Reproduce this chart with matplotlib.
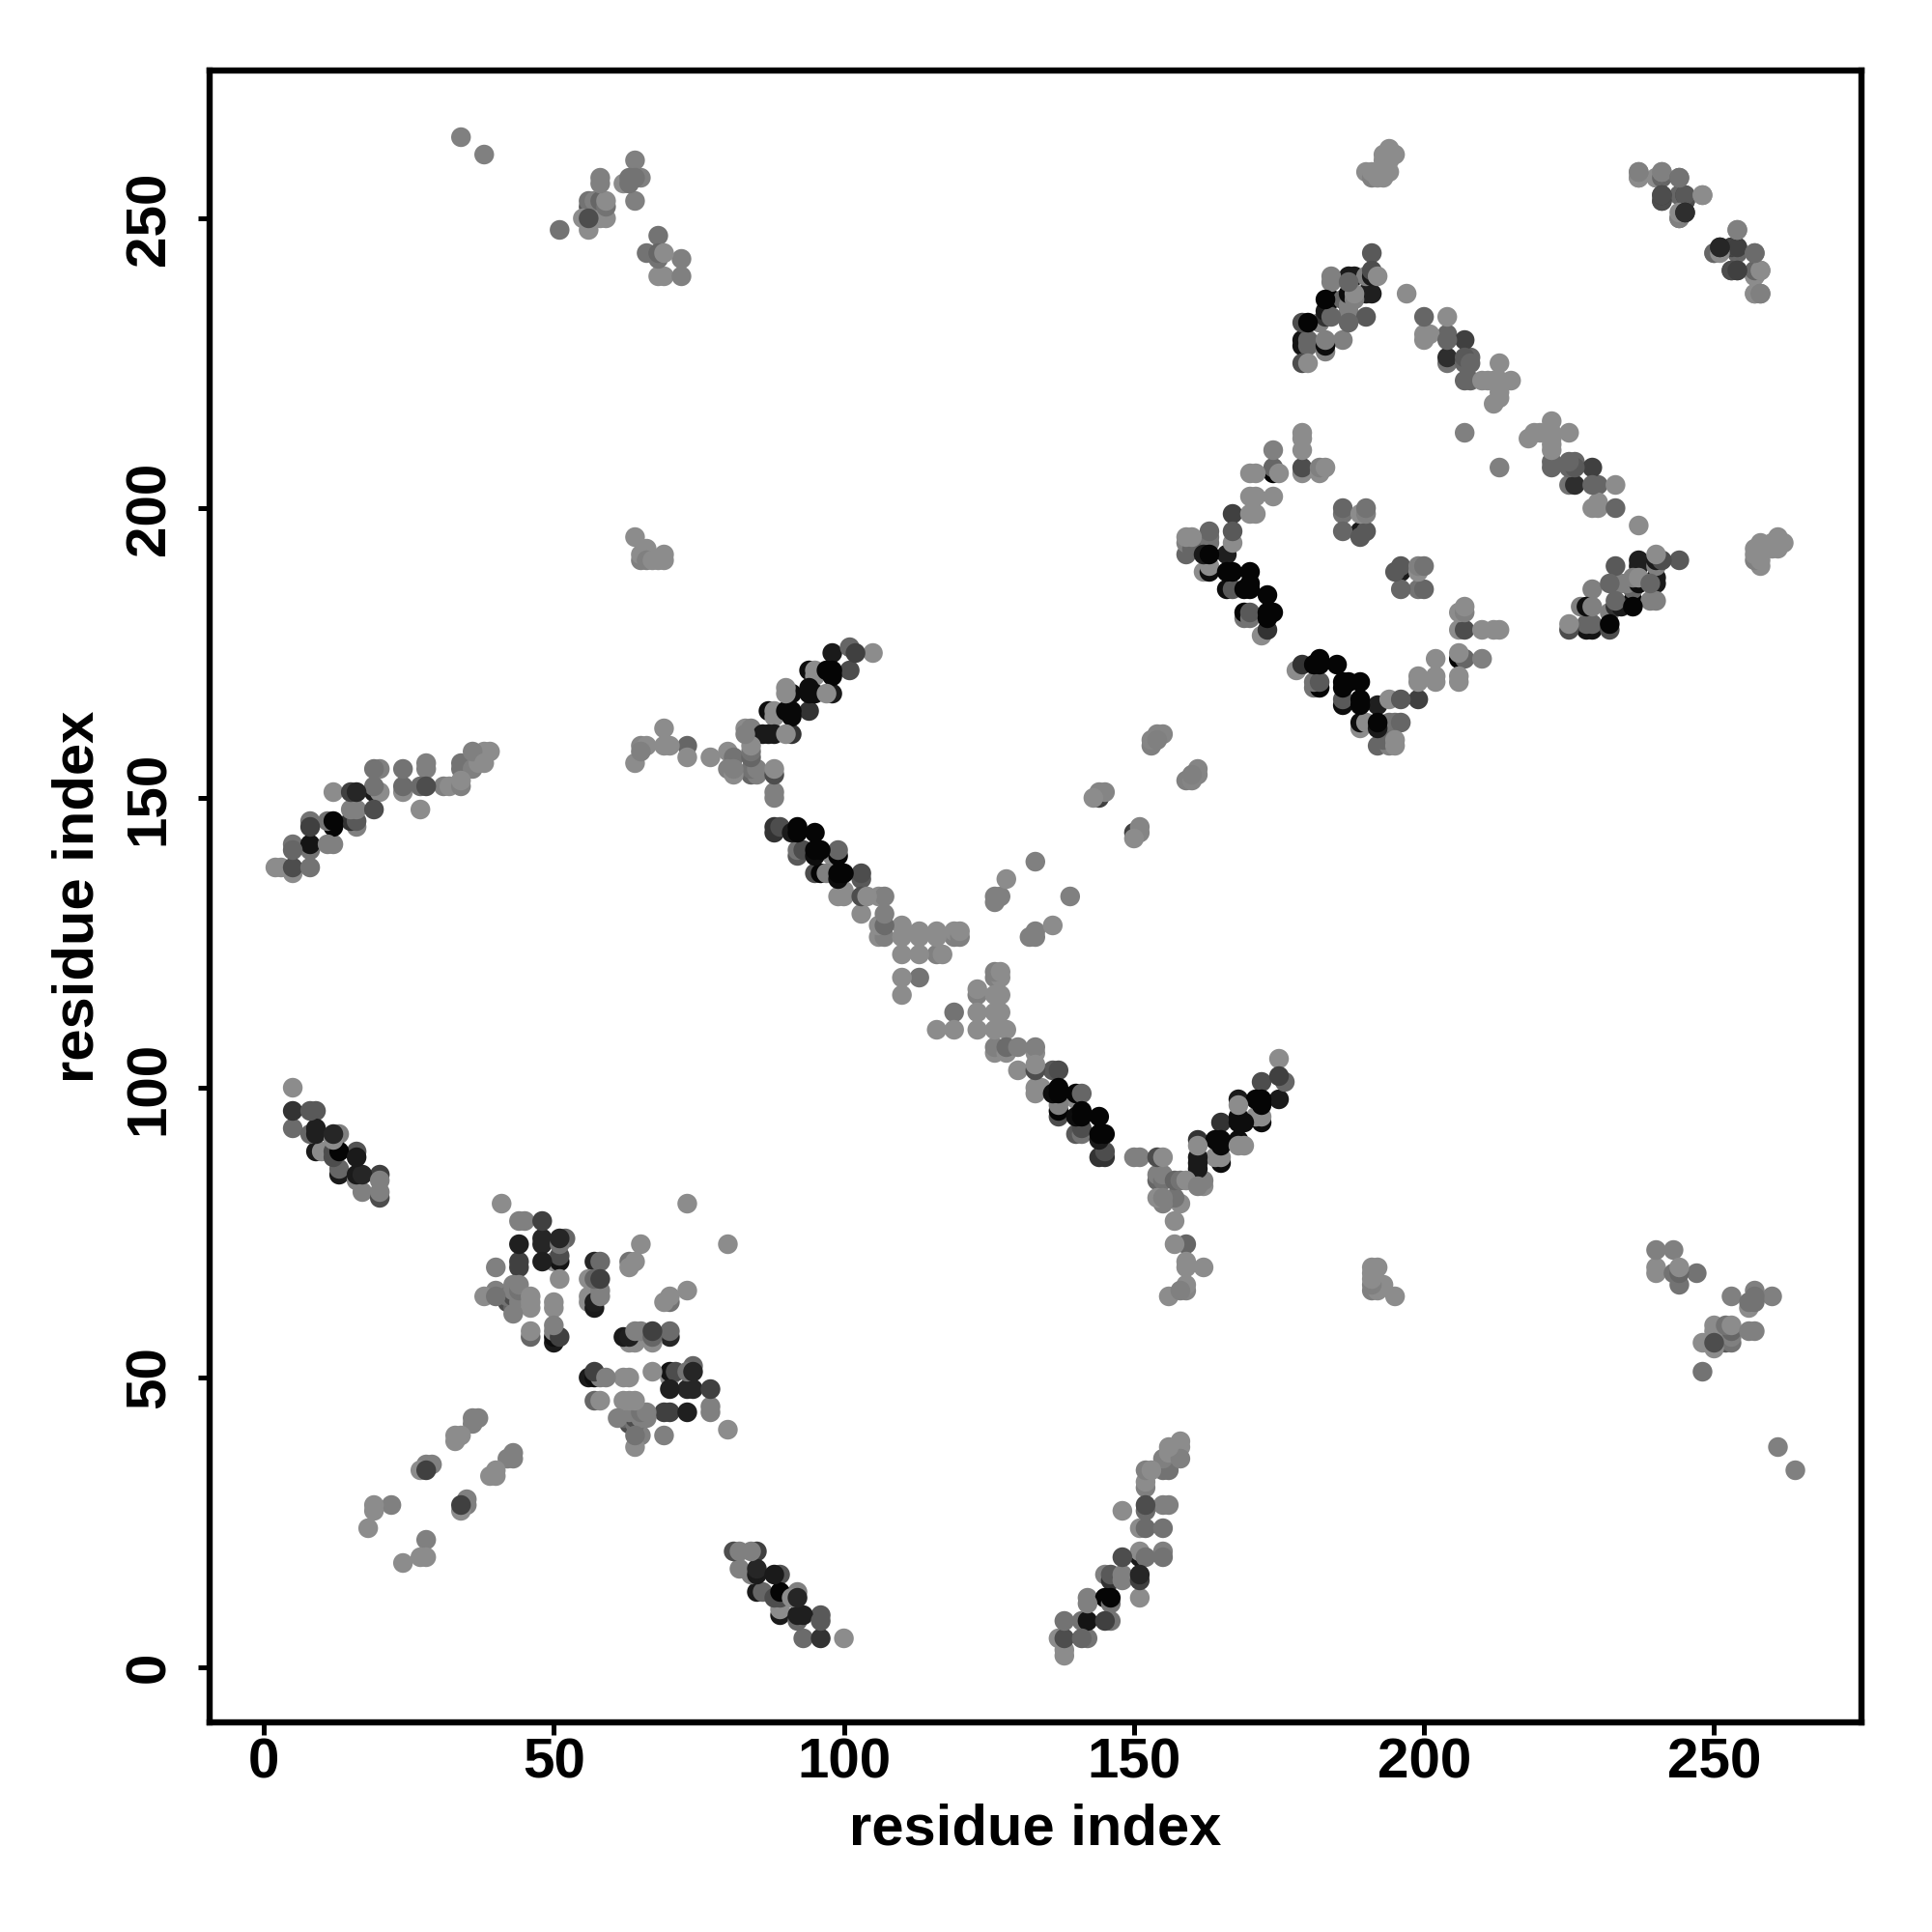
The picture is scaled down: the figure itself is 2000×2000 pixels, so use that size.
import matplotlib
matplotlib.use("Agg")
import matplotlib.pyplot as plt

plt.rcParams['font.family'] = ['Liberation Sans', 'DejaVu Sans']

# contacts (residue i, residue j, gray level); the map is symmetric, i < j listed
helix_a = [(5,100,.55),(5,96,.2),(8,96,.35),(9,96,.35),(5,93,.42),(8,92,.4),(9,93,.12),(9,92,.12),(12,92,.15),(13,92,.5),
           (9,89,.1),(10,89,.55),(12,89,.3),(12,88,.3),(13,89,.02),(16,89,.33),(16,88,.1),(13,86,.4),(13,85,.1),(16,84,.5),
           (16,85,.1),(17,85,.15),(20,85,.25),(20,84,.5),(17,82,.5),(20,82,.5),(20,81,.3),(12,91,.55)]
sheet_b = [(41,80,.55),(73,80,.55),(44,77,.5),(45,77,.5),(48,77,.25),(44,73,.12),(48,74,.15),(48,73,.15),(51,74,.15),(52,74,.4),
           (51,73,.45),(48,70,.12),(51,71,.3),(51,70,.08),(50,70,.55),(44,70,.25),(44,69,.25),(40,69,.5),(65,73,.55),(57,70,.15),
           (58,70,.42),(63,70,.45),(64,70,.55),(63,69,.55),(51,67,.55),(56,67,.55),(57,67,.4),(58,67,.25),(56,64,.55),(56,63,.55),
           (58,65,.5),(58,64,.5),(57,63,.12),(57,62,.1),(38,64,.55),(40,65,.5),(40,64,.45),(44,66,.5),(43,66,.5),(43,65,.5),(44,65,.45),
           (42,64,.45),(42,63,.3),(43,62,.4),(43,61,.5),(43,64,.3),(44,63,.5),(46,64,.55),(46,63,.55),(46,62,.55),(50,63,.55),(50,62,.55),
           (46,58,.55),(46,57,.4),(50,59,.5),(50,58,.5),(50,56,.1),(50,57,.05),(51,57,.25)]
strand_c = [(36,43,.5),(37,43,.5),(36,42,.5),(34,40,.55),(33,39,.55),(33,40,.55),(29,35,.5),(28,35,.5),(28,34,.25),(27,34,.55),
            (19,28,.55),(19,27,.55),(22,28,.5),(18,24,.55)]
block_d = [(138,2,.55),(138,3,.55),(137,5,.55),(138,5,.3),(141,5,.4),(142,5,.45),(138,8,.45),(141,8,.45),(142,8,.08),(145,8,.25),
           (146,8,.45),(142,12,.5),(142,11,.5),(145,12,.02),(146,12,.02),(146,11,.45),(145,16,.5),(146,16,.35),(146,15,.2),(148,16,.5),
           (148,15,.5),(151,16,.15),(151,15,.25),(151,12,.55),(148,19,.3),(151,19,.1),(151,20,.55),(152,19,.45),(155,20,.5),(155,19,.45),
           (151,24,.55),(152,24,.42),(155,24,.45),(148,27,.55),(152,28,.3),(152,27,.42),(155,28,.5),(156,28,.5),(152,31,.5),(152,32,.55),
           (152,34,.5),(153,34,.55),(155,34,.45),(156,34,.45),(155,36,.5),(156,37,.55),(158,36,.5),(156,38,.55),(158,39,.55),(158,38,.55)]
v_arm_up = [(105,175,.55),(101,176,.4),(102,175,.25),(98,175,.1),(101,172,.3),(98,172,.02),(97,172,.02),(98,171,.02),(94,172,.05),(95,172,.55),
            (95,171,.55),(91,168,.05),(90,169,.55),(90,168,.55),(94,169,.05),(94,168,.05),(95,168,.05),(97,168,.55),(98,168,.1),(94,165,.2),
            (87,165,.05),(90,165,.03),(91,165,.03),(91,164,.03),(88,165,.55),(88,164,.55),(87,161,.1),(88,161,.1),(86,161,.1),(90,161,.55),(91,161,.2),
            (83,162,.55),(84,162,.5),(84,161,.1),(83,161,.5),(84,159,.55),(84,158,.45),(77,157,.55),(80,158,.55),(81,157,.45),(80,155,.5),
            (81,155,.5),(81,154,.55),(84,157,.4),(84,154,.4),(85,155,.5),(85,154,.5),(84,155,.45),(88,155,.55),(88,154,.3),(88,151,.5),(88,150,.5)]
v_arm_low = [(88,145,.2),(88,144,.2),(89,145,.3),(91,144,.1),(92,145,.02),(92,144,.02),(95,144,.02),(92,141,.45),(92,140,.35),(93,141,.3),
             (95,141,.02),(96,141,.02),(95,140,.05),(98,140,.55),(99,140,.02),(99,141,.4),(95,137,.3),(96,137,.02),(97,137,.5),(99,137,.02),
             (100,137,.02),(99,136,.05),(103,137,.3),(103,136,.35),(99,133,.55),(100,133,.55),(100,134,.55),(103,133,.3),(104,133,.55),(106,133,.55),
             (107,133,.5),(103,130,.55),(107,130,.5),(106,128,.55),(107,128,.42),(106,126,.55),(107,126,.5),(110,128,.55),(110,126,.55),(113,127,.55),
             (113,126,.55),(116,127,.55),(116,126,.55),(119,127,.55),(120,127,.55),(119,126,.5),(120,126,.5),(110,123,.55),(113,123,.55),(116,123,.5),
             (117,123,.55),(110,119,.55),(113,119,.45),(110,116,.55)]
near_diag = [(133,139,.5),(128,136,.55),(126,133,.5),(127,133,.5),(126,132,.5),(155,161,.52),(154,161,.52),(154,160,.5),(153,160,.52),(153,159,.5),
             (145,151,.52),(144,151,.52),(144,150,.25),(143,150,.55)]
diamond = [(179,213,.55),(179,212,.55),(179,210,.55),(174,210,.5),(179,207,.3),(179,206,.55),(182,207,.5),(183,207,.55),(182,206,.55),(174,207,.4),
           (174,206,.02),(175,206,.55),(170,206,.55),(171,206,.55),(170,202,.55),(171,202,.55),(174,202,.55),(170,199,.55),(171,199,.55),(167,199,.25),
           (167,196,.35),(167,194,.55),(163,196,.4),(163,195,.45),(163,194,.45),(163,192,.02),(162,192,.1),(166,192,.12),(159,195,.55),(160,195,.55),
           (159,194,.5),(159,192,.4),(160,193,.4),(163,189,.05),(162,189,.55),(163,190,.55),(166,189,.02),(167,189,.02),(170,189,.02),(166,186,.05),
           (167,186,.35),(169,186,.02),(170,186,.02),(173,185,.02),(170,187,.02),(169,182,.02),(170,182,.35),(169,181,.45),(170,181,.45),(173,182,.02),
           (174,182,.02),(173,181,.02),(173,179,.2),(172,178,.55),
           (186,200,.4),(186,199,.45),(189,199,.55),(190,200,.45),(190,199,.5),(186,196,.4),(189,196,.1),(190,196,.35),(189,195,.35)]
top_cluster = [(194,262,.55),(195,261,.55),(193,261,.55),(193,260,.55),(194,260,.55),(194,258,.55),(190,258,.55),(191,258,.55),(191,257,.5),(192,257,.55),(193,257,.55),
               (237,258,.5),(237,257,.55),(240,257,.55),(241,258,.55),(241,257,.4),(244,257,.42),(241,254,.25),(241,253,.3),(244,254,.4),(245,254,.25),
               (245,253,.25),(248,254,.5),(245,251,.15),(244,251,.55),(244,250,.4),(254,248,.55),(250,244,.5),(251,245,.18),(253,245,.3),(254,245,.35),
               (254,244,.4),(257,244,.45),(253,241,.3),(254,241,.3),(257,240,.55),(258,241,.5),(257,237,.55),(258,237,.5)]
upper_block = [(191,244,.35),(191,241,.3),(190,240,.5),(191,240,.1),(192,240,.55),(184,240,.5),(184,239,.5),(187,240,.1),(188,240,.1),(187,239,.4),
               (190,237,.12),(191,237,.12),(187,237,.05),(188,237,.55),(188,236,.5),(183,236,.02),(184,236,.02),(186,236,.4),(187,235,.5),(190,233,.35),
               (187,234,.5),(187,233,.1),(187,232,.4),(183,234,.1),(183,233,.2),(184,233,.4),(182,232,.5),(179,232,.3),(180,232,.02),(183,229,.5),
               (183,228,.05),(183,227,.5),(186,229,.5),(179,229,.08),(179,228,.08),(180,229,.4),(180,228,.4),(179,225,.3),(180,225,.55),
               (197,237,.55),(200,233,.4),(204,233,.55),(200,230,.55),(201,230,.55),(200,229,.55),(204,230,.4),(204,229,.4),(207,229,.25),(204,226,.18),
               (204,225,.45),(207,226,.35),(208,226,.4),(207,225,.4),(208,225,.4),(213,225,.55),(207,222,.4),(208,222,.4),(210,222,.55),(211,222,.55),
               (212,222,.55),(213,222,.55),(215,222,.55),(213,220,.55),(213,219,.55),(212,218,.55),(207,213,.5)]
far_left = [(51,248,.45),(64,260,.5),(62,256,.55),(63,257,.45),(63,256,.45),(64,257,.45),(65,257,.5),(64,253,.5),(58,257,.5),(58,256,.5),
            (56,253,.45),(57,253,.5),(58,253,.4),(59,253,.55),(56,252,.35),(59,252,.45),(55,250,.55),(56,250,.3),(58,250,.55),(59,250,.55),(56,248,.55),
            (68,247,.45),(66,244,.45),(68,244,.4),(69,244,.55),(68,243,.45),(72,243,.5),(68,240,.55),(69,240,.55),(72,240,.5),(34,264,.5),(38,261,.5),
            (64,195,.55),(65,192,.55),(65,191,.5),(66,193,.55),(66,191,.5),(67,191,.55),(68,191,.55),(69,192,.55),(69,191,.55),
            (64,156,.55),(65,158,.5),(65,159,.52),(66,159,.55),(69,162,.55),(69,159,.55),(70,159,.55),(73,159,.4),(73,157,.55)]

blocks = [helix_a, sheet_b, strand_c, block_d, v_arm_up, v_arm_low, near_diag, diamond, top_cluster, upper_block, far_left]
contacts = [c for b in blocks for c in b]
res_i = [c[0] for c in contacts]
res_j = [c[1] for c in contacts]
gray = [c[2] for c in contacts]
tick_values = [0, 50, 100, 150, 200, 250]

fig = plt.figure(figsize=(10, 10), dpi=200)
ax = fig.add_axes([217/2000, 1 - 1783/2000, 1710/2000, 1710/2000])
xs = res_i + res_j
ys = res_j + res_i
cols = [str(g) for g in gray] * 2
order = sorted(range(len(xs)), key=lambda k: (xs[k] + ys[k]) % 7)
ax.scatter([xs[k] for k in order], [ys[k] for k in order], s=54, c=[cols[k] for k in order],
           linewidths=0, zorder=3)
ax.set_xlim(-9.33, 275.4)
ax.set_ylim(-9.5, 275.5)
ax.set_xticks(tick_values)
ax.set_yticks(tick_values)
ax.tick_params(axis='both', length=4.5, width=1.8, labelsize=21)
ax.tick_params(axis='x', pad=1)
ax.tick_params(axis='y', pad=8)
for t in ax.get_xticklabels():
    t.set_fontweight('bold')
for t in ax.get_yticklabels():
    t.set_fontweight('bold')
    t.set_rotation(90)
    t.set_va('center')
for s in ax.spines.values():
    s.set_linewidth(2.3)
ax.set_xlabel('residue index', fontsize=21.5, fontweight='bold', labelpad=5.3)
ax.set_ylabel('residue index', fontsize=21.5, fontweight='bold', labelpad=7)
fig.savefig('out.png', dpi=200, facecolor='white')
